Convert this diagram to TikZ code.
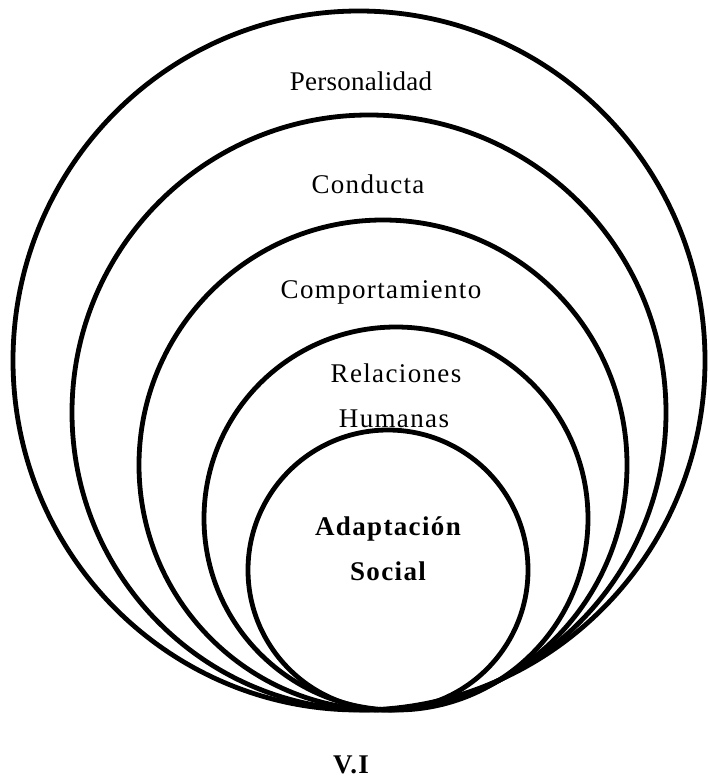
\documentclass[tikz,border=0pt]{standalone}
\usepackage{fontspec}
\setmainfont{Liberation Serif}
\newfontfamily\labfont[LetterSpace=5]{Liberation Serif}
\newfontfamily\labfontnarrow[LetterSpace=1]{Liberation Serif}
\begin{document}
\begin{tikzpicture}[x=1pt,y=-1pt,
  ring/.style={draw=black,line width=4.8pt},
  lab/.style={anchor=base,inner sep=0pt,font=\labfont\fontsize{27}{32}\selectfont},
  labn/.style={anchor=base,inner sep=0pt,font=\labfontnarrow\fontsize{27}{32}\selectfont},
  blab/.style={anchor=base,inner sep=0pt,font=\labfont\bfseries\fontsize{27}{32}\selectfont}]
\useasboundingbox (0,0) rectangle (708,779);
\fill[white] (0,0) rectangle (708,779);
% nested rings
\draw[ring] (359,360.5) ellipse [x radius=346pt, y radius=349.5pt];
\draw[ring] (369,412.5) ellipse [x radius=297pt, y radius=297.5pt];
\draw[ring] (383,465) ellipse [x radius=244pt, y radius=245pt];
\draw[ring] (396,518.5) ellipse [x radius=192pt, y radius=191.5pt];
\draw[ring] (388,570) ellipse [x radius=140pt, y radius=140pt];
% labels
\node[labn] (pers) at (361,90) {Personalidad};
\node[lab] (cond) at (368,193) {Conducta};
\node[lab] (comp) at (381,298) {Comportamiento};
\node[lab] (rel) at (396,382) {Relaciones};
\node[lab] (hum) at (394,427) {Humanas};
\node[blab] (adap) at (388,535) {Adaptación};
\node[blab] (soc) at (388,580) {Social};
\node[blab] (vi) at (351,773) {V.I};
\end{tikzpicture}
\end{document}
